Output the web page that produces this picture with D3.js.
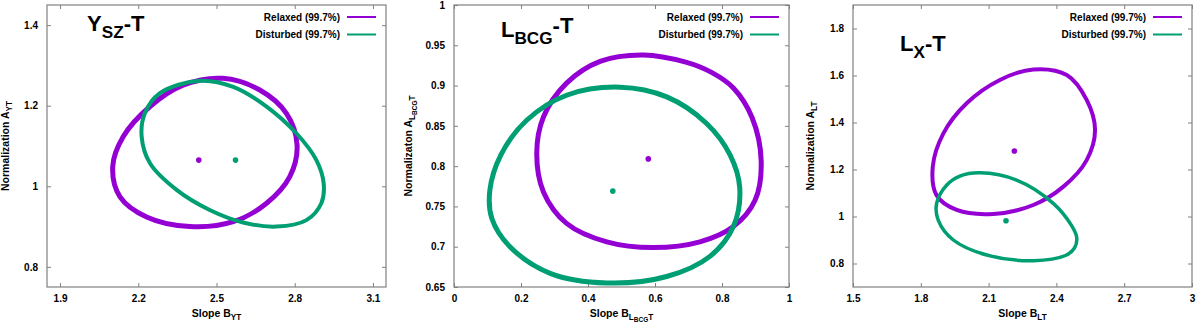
<!DOCTYPE html>
<html>
<head>
<meta charset="utf-8">
<script src="https://cdn.jsdelivr.net/npm/d3@7"></script>
<style>
	body { margin: 0; background: #fff; }
	svg text { font-family: "Liberation Sans", Arial, Helvetica, sans-serif; font-weight: bold; fill: #000; }
</style>
</head>
<body>
<div id="chart"></div>
<script>
// ---- data (contours traced by hand) ----
const seriesNames = ['Relaxed (99.7%)', 'Disturbed (99.7%)'];

// Y_SZ - T
const xDomainYT = [1.85, 3.15];
const yDomainYT = [0.75, 1.45];
const xTicksYT = [1.9, 2.2, 2.5, 2.8, 3.1];
const yTicksYT = [0.8, 1, 1.2, 1.4];
const relaxedYT = [[2.525, 1.268], [2.666, 1.239], [2.768, 1.181], [2.809, 1.102], [2.781, 1.024], [2.692, 0.958], [2.564, 0.912], [2.398, 0.900], [2.232, 0.924], [2.130, 0.974], [2.102, 1.049], [2.142, 1.123], [2.245, 1.198], [2.372, 1.251]];
const disturbedYT = [[2.436, 1.262], [2.564, 1.247], [2.692, 1.198], [2.807, 1.131], [2.883, 1.065], [2.911, 1.007], [2.902, 0.958], [2.845, 0.916], [2.730, 0.900], [2.602, 0.910], [2.474, 0.941], [2.347, 0.991], [2.245, 1.057], [2.213, 1.123], [2.225, 1.181], [2.283, 1.231]];
const bestYT = [[2.432, 1.065], [2.573, 1.065]];

// L_BCG - T
const xDomainLBCG = [0, 1];
const yDomainLBCG = [0.65, 1];
const xTicksLBCG = [0, 0.2, 0.4, 0.6, 0.8, 1];
const yTicksLBCG = [0.65, 0.7, 0.75, 0.8, 0.85, 0.9, 0.95, 1];
const relaxedLBCG = [[0.565, 0.938], [0.692, 0.929], [0.770, 0.916], [0.834, 0.897], [0.890, 0.860], [0.917, 0.806], [0.899, 0.758], [0.834, 0.725], [0.734, 0.706], [0.595, 0.699], [0.456, 0.706], [0.336, 0.729], [0.267, 0.768], [0.247, 0.816], [0.267, 0.861], [0.336, 0.903], [0.436, 0.930]];
const disturbedLBCG = [[0.496, 0.898], [0.635, 0.886], [0.754, 0.853], [0.824, 0.814], [0.853, 0.773], [0.834, 0.725], [0.764, 0.688], [0.635, 0.663], [0.456, 0.655], [0.287, 0.667], [0.167, 0.700], [0.113, 0.735], [0.107, 0.770], [0.140, 0.814], [0.217, 0.857], [0.336, 0.888]];
const bestLBCG = [[0.58, 0.809], [0.474, 0.769]];

// L_X - T
const xDomainLT = [1.5, 3];
const yDomainLT = [0.7, 1.9];
const xTicksLT = [1.5, 1.8, 2.1, 2.4, 2.7, 3];
const yTicksLT = [0.8, 1, 1.2, 1.4, 1.6, 1.8];
const relaxedLT = [[2.298, 1.626], [2.446, 1.602], [2.534, 1.496], [2.571, 1.368], [2.534, 1.240], [2.431, 1.127], [2.298, 1.049], [2.121, 1.011], [1.959, 1.028], [1.870, 1.090], [1.853, 1.212], [1.900, 1.354], [2.003, 1.482], [2.150, 1.581]];
const disturbedLT = [[2.062, 1.186], [2.224, 1.155], [2.386, 1.056], [2.468, 0.960], [2.490, 0.910], [2.480, 0.866], [2.440, 0.834], [2.298, 0.812], [2.092, 0.836], [1.944, 0.900], [1.877, 0.985], [1.870, 1.056], [1.915, 1.134], [1.973, 1.172]];
const bestLT = [[2.214, 1.279], [2.177, 0.982]];

// labels: [text, level] (level 1 = subscript, 2 = sub-subscript, -1 = raised)
const titleYT = [['Y', 0], ['SZ', 1], ['-T', 0]];
const titleLBCG = [['L', 0], ['BCG', 1], ['-T', -1]];
const titleLT = [['L', 0], ['X', 1], ['-T', 0]];
const xLabelYT = [['Slope B', 0], ['YT', 1]];
const yLabelYT = [['Normalization A', 0], ['YT', 1]];
const xLabelLBCG = [['Slope B', 0], ['L', 1], ['BCG', 2], ['T', 1]];
const yLabelLBCG = [['Normalizaton A', 0], ['L', 1], ['BCG', 2], ['T', 1]];
const xLabelLT = [['Slope B', 0], ['LT', 1]];
const yLabelLT = [['Normalization A', 0], ['LT', 1]];

// ---- drawing ----
const colors = ['#9400d3', '#009e73'];
const frameColor = '#808080';
const frameTop = 5, frameBottom = 287;

const panels = [
	{ left: 47, right: 386, xDomain: xDomainYT, yDomain: yDomainYT, xTicks: xTicksYT, yTicks: yTicksYT,
	  curves: [relaxedYT, disturbedYT], best: bestYT, widths: [5, 4],
	  title: titleYT, titleX: 87, titleY: 31, xLabel: xLabelYT, yLabel: yLabelYT, yLabelX: 9 },
	{ left: 454, right: 789, xDomain: xDomainLBCG, yDomain: yDomainLBCG, xTicks: xTicksLBCG, yTicks: yTicksLBCG,
	  curves: [relaxedLBCG, disturbedLBCG], best: bestLBCG, widths: [5, 5],
	  title: titleLBCG, titleX: 501, titleY: 37, xLabel: xLabelLBCG, yLabel: yLabelLBCG, yLabelX: 412 },
	{ left: 853, right: 1192, xDomain: xDomainLT, yDomain: yDomainLT, xTicks: xTicksLT, yTicks: yTicksLT,
	  curves: [relaxedLT, disturbedLT], best: bestLT, widths: [4, 3.5],
	  title: titleLT, titleX: 900, titleY: 51, xLabel: xLabelLT, yLabel: yLabelLT, yLabelX: 814 }
];

const svg = d3.select('#chart').append('svg')
	.attr('width', 1200)
	.attr('height', 326);

const levels = { '0': [1, 0], '1': [0.78, 0.32], '2': [0.62, 0.52], '-1': [1, -0.2] };

function richText(textSel, parts, size) {
	let prev = 0;
	parts.forEach(([t, lvl]) => {
		const [scale, off] = levels[lvl];
		textSel.append('tspan')
			.attr('dy', (off - prev) * size)
			.style('font-size', (size * scale) + 'px')
			.text(t);
		prev = off;
	});
}

const fmt = d3.format('~g');

panels.forEach((p) => {
	const x = d3.scaleLinear().domain(p.xDomain).range([p.left, p.right]);
	const y = d3.scaleLinear().domain(p.yDomain).range([frameBottom, frameTop]);
	const g = svg.append('g');

	// ticks (inward, mirrored like gnuplot)
	const tickLen = 4;
	const axisStyle = (sel) => {
		sel.select('.domain').remove();
		sel.selectAll('line').attr('stroke', frameColor);
		sel.selectAll('text').style('font-size', '10px');
	};
	g.append('g').attr('transform', `translate(0,${frameBottom})`)
		.call(d3.axisBottom(x).tickValues(p.xTicks).tickFormat(fmt).tickSizeInner(-tickLen).tickPadding(8))
		.call(axisStyle);
	g.append('g').attr('transform', `translate(0,${frameTop})`)
		.call(d3.axisTop(x).tickValues(p.xTicks).tickFormat('').tickSizeInner(-tickLen))
		.call(axisStyle);
	g.append('g').attr('transform', `translate(${p.left},0)`)
		.call(d3.axisLeft(y).tickValues(p.yTicks).tickFormat(fmt).tickSizeInner(-tickLen).tickPadding(9))
		.call(axisStyle);
	g.append('g').attr('transform', `translate(${p.right},0)`)
		.call(d3.axisRight(y).tickValues(p.yTicks).tickFormat('').tickSizeInner(-tickLen))
		.call(axisStyle);
	g.selectAll('.tick text').attr('fill', '#000');

	// frame
	g.append('rect')
		.attr('x', p.left).attr('y', frameTop)
		.attr('width', p.right - p.left).attr('height', frameBottom - frameTop)
		.attr('fill', 'none')
		.attr('stroke', frameColor)
		.attr('stroke-width', 1.2);

	// contours
	const line = d3.line()
		.x(d => x(d[0]))
		.y(d => y(d[1]))
		.curve(d3.curveCatmullRomClosed.alpha(0.5));
	p.curves.forEach((c, i) => {
		g.append('path')
			.attr('d', line(c))
			.attr('fill', 'none')
			.attr('stroke', colors[i])
			.attr('stroke-width', p.widths[i]);
	});

	// best-fit points
	g.selectAll('circle.best')
		.data(p.best)
		.enter()
		.append('circle')
		.attr('cx', d => x(d[0]))
		.attr('cy', d => y(d[1]))
		.attr('r', 2.8)
		.attr('fill', (d, i) => colors[i]);

	// legend
	seriesNames.forEach((name, i) => {
		const ly = 17 + i * 17.5;
		g.append('line')
			.attr('x1', p.right - 39).attr('x2', p.right - 10)
			.attr('y1', ly).attr('y2', ly)
			.attr('stroke', colors[i])
			.attr('stroke-width', 2);
		g.append('text')
			.attr('x', p.right - 46).attr('y', ly + 3.6)
			.attr('text-anchor', 'end')
			.style('font-size', '10px')
			.text(name);
	});

	// title
	richText(g.append('text').attr('x', p.titleX).attr('y', p.titleY).style('font-size', '22px'), p.title, 22);

	// axis labels
	richText(g.append('text')
		.attr('x', (p.left + p.right) / 2).attr('y', 317)
		.attr('text-anchor', 'middle')
		.style('font-size', '10.5px'), p.xLabel, 10.5);
	richText(g.append('text')
		.attr('transform', `translate(${p.yLabelX},${(frameTop + frameBottom) / 2}) rotate(-90)`)
		.attr('text-anchor', 'middle')
		.style('font-size', '10.5px'), p.yLabel, 10.5);
});
</script>
</body>
</html>
